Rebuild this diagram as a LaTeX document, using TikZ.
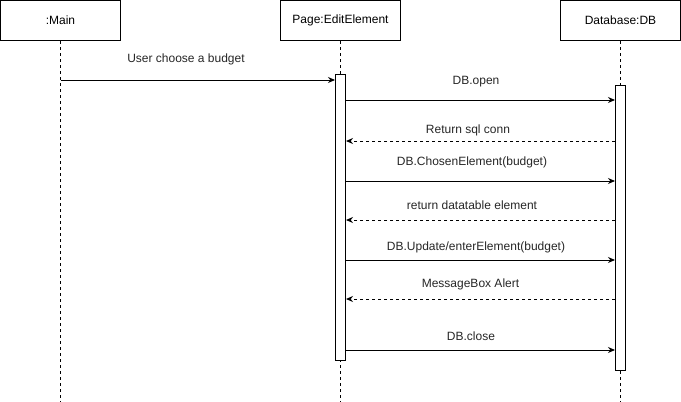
\documentclass[tikz,border=0pt]{standalone}
\usepackage{fontspec}
\setmainfont{Liberation Sans}
\usetikzlibrary{arrows.meta}
\begin{document}
\begin{tikzpicture}[x=1pt,y=-1pt,
  obj/.style={draw, line width=1pt, minimum width=120pt, minimum height=40pt, inner sep=0pt, font=\fontsize{12}{14}\selectfont},
  life/.style={line width=0.8pt, dash pattern=on 3pt off 3pt},
  act/.style={draw, fill=white, line width=1pt, minimum width=10pt, inner sep=0pt},
  msg/.style={-{Stealth[length=7pt,width=6pt]}, line width=1pt},
  ret/.style={msg, dash pattern=on 3pt off 3pt},
  lbl/.style={font=\fontsize{12}{14}\selectfont, text=black!85, inner sep=0pt}]
\useasboundingbox (0,0) rectangle (681,402);
% objects
\node[obj] (main) at (60.5,20.5) {:Main};
\node[obj] (page) at (340.5,20.5) {Page:EditElement};
\node[obj] (db) at (620.5,20.5) {Database:DB};
% lifeline ends
\coordinate (mainend) at (60.5,402);
\coordinate (pageend) at (340.5,402);
\coordinate (dbend) at (620.5,402);
\draw[life] (main.south) -- (mainend);
\draw[life] (page.south) -- (pageend);
\draw[life] (db.south) -- (dbend);
% activations
\node[act, minimum height=286pt] (pa) at (340.5,217) {};
\node[act, minimum height=285pt] (da) at (620.5,227.5) {};
% message levels
\coordinate (y1) at (0,80);
\coordinate (y2) at (0,100);
\coordinate (y3) at (0,141);
\coordinate (y4) at (0,181);
\coordinate (y5) at (0,220);
\coordinate (y6) at (0,260);
\coordinate (y7) at (0,299);
\coordinate (y8) at (0,350);
% messages
\draw[msg] (main |- y1) -- (pa.west |- y1);
\draw[msg] (pa.east |- y2) -- (da.west |- y2);
\draw[ret] (da.west |- y3) -- (pa.east |- y3);
\draw[msg] (pa.east |- y4) -- (da.west |- y4);
\draw[ret] (da.west |- y5) -- (pa.east |- y5);
\draw[msg] (pa.east |- y6) -- (da.west |- y6);
\draw[ret] (da.west |- y7) -- (pa.east |- y7);
\draw[msg] (pa.east |- y8) -- (da.west |- y8);
% labels
\node[lbl] (l1) at (186,59) {User choose a budget};
\node[lbl] (l2) at (476,82) {DB.open};
\node[lbl] (l3) at (468,130) {Return sql conn};
\node[lbl] (l4) at (472,162) {DB.ChosenElement(budget)};
\node[lbl] (l5) at (472,205.5) {return datatable element};
\node[lbl] (l6) at (476,247) {DB.Update/enterElement(budget)};
\node[lbl] (l7) at (470.5,284.5) {MessageBox Alert};
\node[lbl] (l8) at (471,336) {DB.close};
\end{tikzpicture}
\end{document}
